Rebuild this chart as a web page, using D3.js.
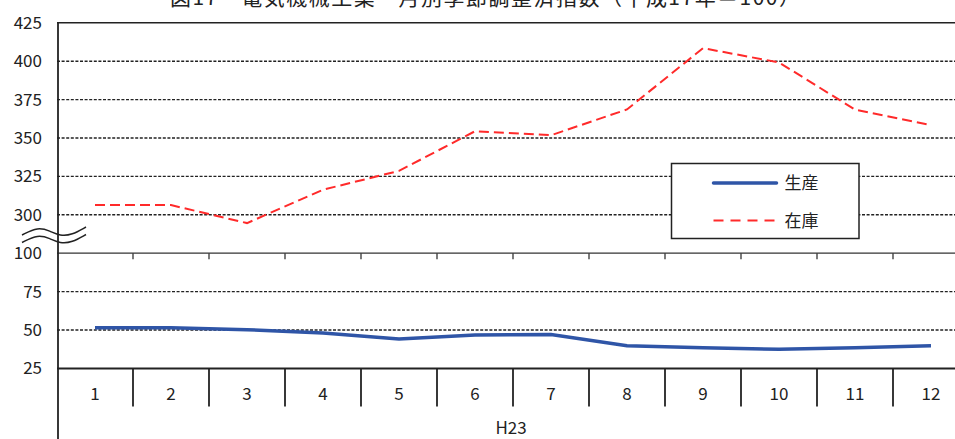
<!DOCTYPE html>
<html>
<head>
<meta charset="utf-8">
<script src="https://cdn.jsdelivr.net/npm/d3@7"></script>
<style>
  html, body { margin: 0; padding: 0; background: #fff; overflow: hidden; }
  text { font-family: "Noto Sans CJK JP", "Noto Sans", sans-serif; fill: #222; }
</style>
</head>
<body>
<div id="mainChart"></div>
<script>
const months = [1, 2, 3, 4, 5, 6, 7, 8, 9, 10, 11, 12];
const production = [51.5, 51.5, 50.2, 48.1, 44.2, 46.8, 47.0, 39.8, 38.5, 37.4, 38.5, 39.8];
const inventory = [306.3, 306.3, 294.6, 316.3, 328.6, 354.4, 351.8, 368.6, 408.5, 399.2, 368.5, 358.3];
const upperTicks = [300, 325, 350, 375, 400, 425];
const lowerTicks = [25, 50, 75, 100];
const seriesNames = ['生産', '在庫'];
const yearLabel = 'H23';
const title = '図17　電気機械工業　月別季節調整済指数（平成17年＝100）';

const W = 955, H = 439;
const MARGIN = { top: 22.8, left: 57, bottom: 368.4 };
const BAND = 76;

// broken axis: values above the break are pulled down by 175
const BREAK_SHIFT = 175;
const fold = v => v >= 200 ? v - BREAK_SHIFT : v;

const x = d3.scaleBand()
    .domain(months)
    .range([MARGIN.left, MARGIN.left + BAND * months.length]);

const y = d3.scaleLinear()
    .domain([25, 425 - BREAK_SHIFT])
    .range([MARGIN.bottom, MARGIN.top]);
const yv = v => y(fold(v));

const svg = d3.select('#mainChart')
    .append('svg')
    .attr('width', W)
    .attr('height', H);

// title (mostly above the visible area, as in the source)
svg.append('text')
    .attr('x', 170)
    .attr('y', 5)
    .attr('font-size', 21)
    .attr('textLength', 630)
    .attr('lengthAdjust', 'spacing')
    .text(title);

// dashed gridlines
const gridVals = [300, 325, 350, 375, 400, 50, 75];
svg.append('g')
    .selectAll('line')
    .data(gridVals)
    .join('line')
    .attr('x1', MARGIN.left)
    .attr('x2', W)
    .attr('y1', d => yv(d))
    .attr('y2', d => yv(d))
    .attr('stroke', '#222')
    .attr('stroke-width', 1.4)
    .attr('stroke-dasharray', '3,1.6');

// top border
svg.append('line')
    .attr('x1', MARGIN.left).attr('x2', W)
    .attr('y1', yv(425)).attr('y2', yv(425))
    .attr('stroke', '#222').attr('stroke-width', 1.6);

// line at 100 with small ticks
svg.append('line')
    .attr('x1', MARGIN.left).attr('x2', W)
    .attr('y1', yv(100)).attr('y2', yv(100))
    .attr('stroke', '#333').attr('stroke-width', 1.3);

const boundaries = months.slice(1).map(m => x(m));
svg.append('g')
    .selectAll('line')
    .data(boundaries)
    .join('line')
    .attr('x1', d => d).attr('x2', d => d)
    .attr('y1', yv(100)).attr('y2', yv(100) + 6)
    .attr('stroke', '#333').attr('stroke-width', 1.3);

// bottom axis with category cells
svg.append('line')
    .attr('x1', MARGIN.left).attr('x2', W)
    .attr('y1', yv(25)).attr('y2', yv(25))
    .attr('stroke', '#222').attr('stroke-width', 2);

svg.append('g')
    .selectAll('line')
    .data(boundaries)
    .join('line')
    .attr('x1', d => d).attr('x2', d => d)
    .attr('y1', yv(25)).attr('y2', yv(25) + 38)
    .attr('stroke', '#222').attr('stroke-width', 1.8);

svg.append('g')
    .selectAll('text')
    .data(months)
    .join('text')
    .attr('x', d => x(d) + x.bandwidth() / 2)
    .attr('y', yv(25) + 32)
    .attr('text-anchor', 'middle')
    .attr('font-size', 17)
    .text(d => d);

svg.append('text')
    .attr('x', 511)
    .attr('y', 434)
    .attr('text-anchor', 'middle')
    .attr('font-size', 17)
    .text(yearLabel);

// left axis
svg.append('line')
    .attr('x1', MARGIN.left + 1).attr('x2', MARGIN.left + 1)
    .attr('y1', yv(425)).attr('y2', H)
    .attr('stroke', '#222').attr('stroke-width', 1.8);

svg.append('g')
    .selectAll('text')
    .data(upperTicks.concat(lowerTicks))
    .join('text')
    .attr('x', 42)
    .attr('y', d => yv(d) + 6)
    .attr('text-anchor', 'end')
    .attr('font-size', 17)
    .text(d => d);

// break marks
const wave = d3.line().curve(d3.curveBasis);
const breakY = [233, 240.5];
breakY.forEach(by => {
    svg.append('path')
        .attr('d', wave([[22, by + 2], [38, by - 6], [50, by - 2], [60, by + 3], [72, by + 2], [86, by - 6]]))
        .attr('fill', 'none')
        .attr('stroke', '#222')
        .attr('stroke-width', 1.5);
});

const cx = m => x(m) + x.bandwidth() / 2;

// series lines
svg.append('path')
    .datum(inventory)
    .attr('fill', 'none')
    .attr('stroke', '#ff2a2a')
    .attr('stroke-width', 2)
    .attr('stroke-dasharray', '10,5')
    .attr('d', d3.line().x((d, i) => cx(months[i])).y(d => yv(d)));

svg.append('path')
    .datum(production)
    .attr('fill', 'none')
    .attr('stroke', '#2f55a7')
    .attr('stroke-width', 3.5)
    .attr('d', d3.line().x((d, i) => cx(months[i])).y(d => yv(d)));

// legend
const legend = svg.append('g').attr('transform', 'translate(671.5,163.5)');
legend.append('rect')
    .attr('width', 187.5)
    .attr('height', 75)
    .attr('fill', '#fff')
    .attr('stroke', '#222')
    .attr('stroke-width', 1.5);
const legendStyles = [
    { color: '#2f55a7', width: 3.5, dash: null },
    { color: '#ff2a2a', width: 2, dash: '10,7' }
];
seriesNames.forEach((name, i) => {
    const ly = 19.5 + i * 37.5;
    legend.append('line')
        .attr('x1', 42).attr('x2', 105)
        .attr('y1', ly).attr('y2', ly)
        .attr('stroke', legendStyles[i].color)
        .attr('stroke-width', legendStyles[i].width)
        .attr('stroke-linecap', i === 0 ? 'round' : 'butt')
        .attr('stroke-dasharray', legendStyles[i].dash);
    legend.append('text')
        .attr('x', 113)
        .attr('y', ly + 6)
        .attr('font-size', 17)
        .text(name);
});
</script>
</body>
</html>
